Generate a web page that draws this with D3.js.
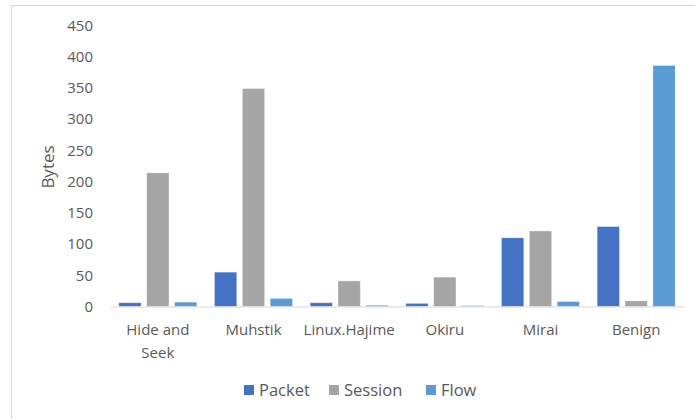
<!DOCTYPE html>
<html lang="en">
<head>
  <meta charset="UTF-8">
  <title>Bytes by traffic type</title>
  <style>
    body { margin: 0; background: #fff; font-family: "Open Sans", sans-serif; }
    svg { display: block; }
    text { fill: #595959; }
  </style>
</head>
<body>
  <svg width="695" height="419"></svg>
  <script src="https://d3js.org/d3.v7.min.js"></script>
  <script>
  const categories = ["Hide and Seek", "Muhstik", "Linux.Hajime", "Okiru", "Mirai", "Benign"];
  const series = ["Packet", "Session", "Flow"];
  const packet = [6, 55, 6, 5, 110, 128];
  const session = [214, 349, 41, 47, 121, 9];
  const flow = [7, 13, 2, 1.5, 8, 386];
  const yTicks = [0, 50, 100, 150, 200, 250, 300, 350, 400, 450];
  const colors = ["#4472C4", "#A5A5A5", "#5B9BD5"];

  const values = { Packet: packet, Session: session, Flow: flow };
  const rows = categories.map((c, i) => ({
    cat: c,
    vals: series.map(s => ({ key: s, value: values[s][i] }))
  }));

  const svg = d3.select("svg");

  // chart frame (only left and top edges are in view)
  svg.append("rect")
    .attr("x", 11.5).attr("y", 5.5)
    .attr("width", 720).attr("height", 440)
    .attr("fill", "none")
    .attr("stroke", "#d9d9d9");

  const plotLeft = 110, plotRight = 684, plotTop = 25.5, plotBottom = 306.5;

  const x0 = d3.scaleBand().domain(categories).range([plotLeft, plotRight]).padding(0);
  const groupW = 78;
  const x1 = d3.scaleBand().domain(series)
    .range([(x0.bandwidth() - groupW) / 2, (x0.bandwidth() + groupW) / 2])
    .paddingInner(0.2);
  const y = d3.scaleLinear().domain([0, 450]).range([plotBottom, plotTop]);
  const color = d3.scaleOrdinal().domain(series).range(colors);

  // y axis labels
  const yAxis = svg.append("g")
    .attr("transform", `translate(${plotLeft - 17},0)`)
    .call(d3.axisLeft(y).tickValues(yTicks).tickSize(0).tickPadding(0));
  yAxis.select(".domain").remove();
  yAxis.selectAll("text")
    .attr("fill", "#595959")
    .style("font-family", "Open Sans, sans-serif")
    .style("font-size", "15px");

  // bars
  svg.append("g")
    .selectAll("g")
    .data(rows)
    .join("g")
    .attr("transform", d => `translate(${x0(d.cat)},0)`)
    .selectAll("rect")
    .data(d => d.vals)
    .join("rect")
    .attr("x", d => x1(d.key))
    .attr("width", x1.bandwidth())
    .attr("y", d => y(d.value))
    .attr("height", d => y(0) - y(d.value))
    .attr("fill", d => color(d.key))
    .attr("stroke", "#fff")
    .attr("stroke-opacity", 0.4)
    .attr("stroke-width", 0.8);

  // x axis
  const xAxis = svg.append("g")
    .attr("transform", `translate(0,${plotBottom})`)
    .call(d3.axisBottom(x0).tickSize(0).tickPadding(0));
  xAxis.select(".domain").attr("stroke", "#d9d9d9").attr("stroke-width", 1);
  xAxis.selectAll(".tick text").remove();
  xAxis.selectAll(".tick").each(function(d) {
    const words = d === "Hide and Seek" ? ["Hide and", "Seek"] : [d];
    const t = d3.select(this).append("text")
      .attr("text-anchor", "middle")
      .attr("fill", "#595959")
      .style("font-family", "Open Sans, sans-serif")
      .style("font-size", "15px");
    words.forEach((w, i) => {
      t.append("tspan").attr("x", 0).attr("y", 28 + i * 23).text(w);
    });
  });

  // axis title
  svg.append("text")
    .attr("transform", `translate(54,167) rotate(-90)`)
    .attr("text-anchor", "middle")
    .style("font-size", "17px")
    .text("Bytes");

  // legend
  const legendX = [244, 329, 426];
  const legend = svg.append("g")
    .selectAll("g")
    .data(series)
    .join("g")
    .attr("transform", (d, i) => `translate(${legendX[i]},385)`);
  legend.append("rect")
    .attr("width", 10).attr("height", 10)
    .attr("fill", d => color(d));
  legend.append("text")
    .attr("x", 15).attr("y", 11)
    .style("font-size", "16.5px")
    .text(d => d);
  </script>
</body>
</html>
